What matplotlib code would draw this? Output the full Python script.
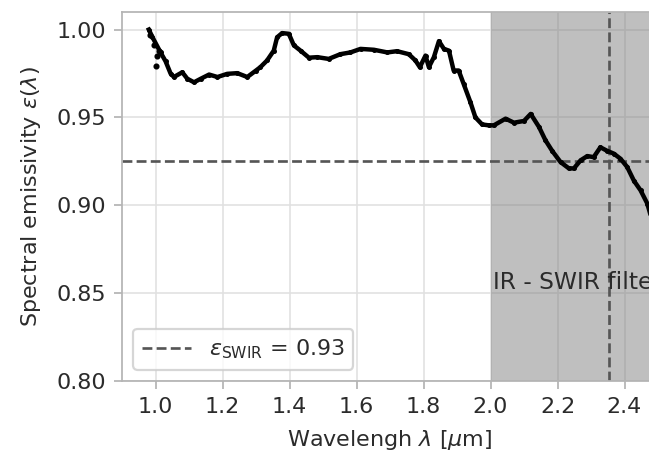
import matplotlib
matplotlib.use("Agg")
import matplotlib.pyplot as plt
import numpy as np

# Measured spectral emissivity curve
wavelength = [0.980, 0.990, 1.015, 1.030, 1.045, 1.055, 1.080, 1.095, 1.115, 1.135,
              1.160, 1.185, 1.214, 1.244, 1.274, 1.300, 1.313, 1.333, 1.353, 1.363,
              1.378, 1.398, 1.413, 1.433, 1.458, 1.483, 1.517, 1.552, 1.582, 1.612,
              1.652, 1.692, 1.721, 1.756, 1.776, 1.789, 1.806, 1.816, 1.831, 1.846,
              1.861, 1.876, 1.890, 1.905, 1.920, 1.940, 1.955, 1.975, 1.995, 2.010,
              2.045, 2.070, 2.100, 2.120, 2.145, 2.164, 2.184, 2.209, 2.234, 2.249,
              2.269, 2.289, 2.308, 2.328, 2.348, 2.368, 2.388, 2.408, 2.428, 2.448,
              2.468, 2.480]
emissivity = [1.000, 0.996, 0.987, 0.982, 0.975, 0.973, 0.9757, 0.972, 0.970, 0.972,
              0.9744, 0.973, 0.9748, 0.9752, 0.973, 0.9767, 0.9786, 0.9824, 0.988, 0.9956,
              0.998, 0.9976, 0.991, 0.988, 0.984, 0.9843, 0.9833, 0.986, 0.987, 0.989,
              0.9885, 0.987, 0.9877, 0.986, 0.9824, 0.9786, 0.9852, 0.9786, 0.9843, 0.9934,
              0.989, 0.988, 0.9767, 0.9767, 0.969, 0.9587, 0.950, 0.946, 0.9455, 0.9455,
              0.9493, 0.947, 0.948, 0.952, 0.9445, 0.937, 0.931, 0.9246, 0.921, 0.921,
              0.9256, 0.928, 0.9274, 0.933, 0.931, 0.9294, 0.9265, 0.9218, 0.914, 0.9085,
              0.901, 0.893]

# Sparse samples at the short-wavelength end
wavelength_sparse = [0.985, 0.995, 1.000, 1.005, 1.010]
emissivity_sparse = [0.997, 0.991, 0.979, 0.985, 0.988]

eps_swir = 0.925          # mean emissivity in the SWIR band
filter_start = 2.0        # SWIR filter cut-on
filter_center = 2.355     # SWIR filter centre wavelength

xticks = [1.0, 1.2, 1.4, 1.6, 1.8, 2.0, 2.2, 2.4]
yticks = [0.80, 0.85, 0.90, 0.95, 1.00]

dpi = 160
fig = plt.figure(figsize=(649 / dpi, 459 / dpi), dpi=dpi)
ax = fig.add_axes([122 / 649, 78 / 459, 536 / 649, 369 / 459])

text_col = "#2b2b2b"
edge_col = "#b5b5b5"

ax.grid(True, color="#e0e0e0", linewidth=0.7, zorder=0)
ax.set_axisbelow(True)

ax.axvspan(filter_start, 3.0, color="gray", alpha=0.5, lw=0, zorder=1)

ax.plot(wavelength, emissivity, color="black", lw=2.0, marker=".", ms=2.5, zorder=3)
ax.plot(wavelength_sparse, emissivity_sparse, ls="none", color="black",
        marker=".", ms=3.5, zorder=3)

ax.axhline(eps_swir, color="#555555", ls="--", lw=1.2, zorder=2,
           label=r"$\varepsilon_{\mathrm{SWIR}}$ = " + f"{eps_swir:.2f}")
ax.axvline(filter_center, color="#555555", ls="--", lw=1.2, zorder=2)

ax.text(filter_start + 0.008, 0.856, "IR - SWIR filter", fontsize=10.5,
        color=text_col, va="center", ha="left", zorder=4)

ax.set_xlim(0.9, 2.5)
ax.set_ylim(0.80, 1.01)
ax.set_xticks(xticks)
ax.set_yticks(yticks)
ax.set_xticklabels([f"{v:.1f}" for v in xticks])
ax.set_yticklabels([f"{v:.2f}" for v in yticks])

for s in ax.spines.values():
    s.set_color(edge_col)
    s.set_linewidth(0.8)
ax.tick_params(colors=edge_col, labelcolor=text_col, labelsize=10, length=3.5, width=0.8)

ax.set_xlabel(r"Wavelengh $\lambda$ [$\mu$m]", color=text_col, fontsize=10, labelpad=5)
ax.set_ylabel(r"Spectral emissivity $\varepsilon(\lambda)$", color=text_col, fontsize=10,
              labelpad=6)

leg = ax.legend(loc="lower left", fontsize=10, frameon=True, fancybox=True,
                handlelength=2.2)
leg.get_frame().set_edgecolor("#cccccc")
for t in leg.get_texts():
    t.set_color(text_col)

fig.savefig("out.png", dpi=dpi)
